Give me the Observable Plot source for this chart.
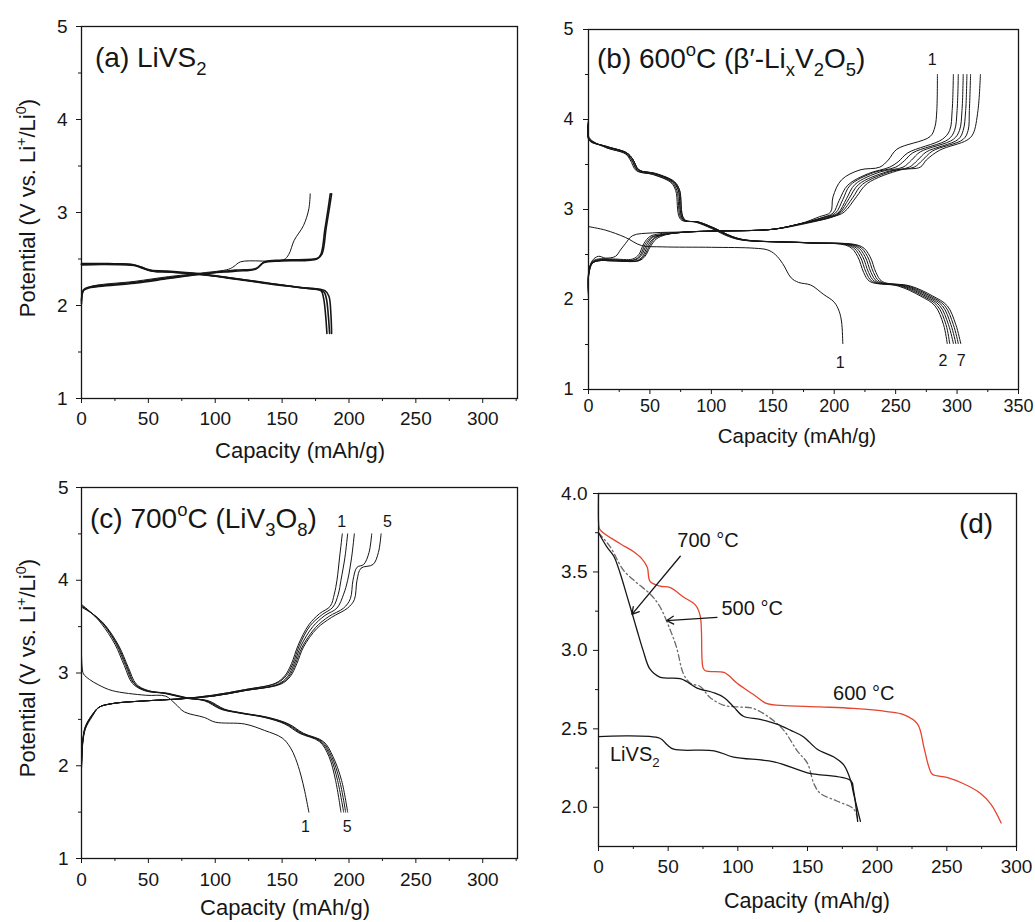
<!DOCTYPE html>
<html>
<head>
<meta charset="utf-8">
<script src="https://cdn.jsdelivr.net/npm/d3@7"></script>
<script src="https://cdn.jsdelivr.net/npm/@observablehq/plot@0.6"></script>
<style>
  html, body { margin: 0; padding: 0; background: #fff; }
  #fig { position: relative; width: 1035px; height: 922px; overflow: hidden; }
  #fig svg { position: absolute; }
</style>
</head>
<body>
<div id="fig"></div>
<script>
// ---------- (a) LiVS2: capacity (mAh/g), potential (V) ----------
const aDis1 = [[0,2.45],[20,2.45],[37,2.44],[44,2.41],[50,2.38],[64,2.37],[89,2.34],[114,2.29],[139,2.24],[164,2.19],[179,2.16],[181,2.08],[182.5,1.90],[183.5,1.70]];
const aDis2 = [[0,2.44],[38,2.44],[45,2.41],[52,2.37],[65,2.36],[90,2.33],[115,2.29],[140,2.24],[165,2.19],[181,2.15],[183,2.08],[184.5,1.90],[185.5,1.70]];
const aDis3 = [[0,2.44],[40,2.43],[47,2.40],[54,2.37],[66,2.36],[92,2.33],[117,2.28],[142,2.23],[166,2.19],[182,2.16],[185,2.10],[186.5,1.90],[187,1.70]];
const aCh1 = [[0,2.00],[1,2.15],[6,2.20],[40,2.26],[65,2.31],[90,2.35],[110,2.39],[114,2.42],[119,2.47],[151,2.49],[155,2.55],[159,2.70],[166,2.86],[170,3.04],[171,3.20]];
const aCh2 = [[0,2.02],[1.5,2.16],[6,2.19],[40,2.24],[65,2.29],[90,2.34],[115,2.37],[130,2.39],[136,2.46],[150,2.48],[176,2.50],[179,2.55],[182,2.82],[184.5,3.05],[186,3.20]];
const aCh3 = [[0,2.05],[1.5,2.17],[6,2.20],[40,2.25],[65,2.30],[90,2.34],[115,2.38],[131,2.40],[137,2.47],[150,2.49],[177,2.51],[180,2.56],[183,2.84],[185.5,3.06],[187,3.20]];

// ---------- (b) 600 °C, beta'-LixV2O5 ----------
const bDis1 = [[0,2.81],[14,2.77],[30,2.69],[43,2.60],[60,2.585],[100,2.58],[135,2.57],[146,2.55],[152,2.50],[158,2.40],[165,2.24],[171,2.19],[181,2.16],[191,2.06],[200,1.97],[204,1.87],[206,1.75],[207,1.51]];
const bDis2 = [[0,4.00],[0.5,3.80],[14,3.69],[30,3.62],[34,3.55],[39,3.43],[52,3.39],[67,3.30],[71,3.21],[75,2.89],[87,2.86],[100,2.79],[114,2.70],[125,2.66],[176,2.63],[212,2.59],[219,2.48],[224,2.30],[229,2.20],[252,2.15],[270,2.04],[282,1.93],[289,1.72],[292,1.51]];
const bDis3 = [[0,3.98],[0.5,3.79],[14,3.69],[30,3.62],[35,3.55],[40,3.43],[53,3.39],[68,3.30],[72,3.21],[76,2.89],[88,2.86],[101,2.79],[115,2.70],[126,2.66],[177,2.63],[214,2.59],[221,2.48],[226,2.30],[231,2.20],[254,2.15],[272,2.04],[284,1.93],[291,1.72],[294,1.51]];
const bDis4 = [[0,3.97],[0.5,3.78],[14,3.70],[30,3.63],[35,3.56],[40,3.44],[53,3.40],[68,3.31],[73,3.22],[77,2.89],[89,2.86],[102,2.79],[116,2.70],[127,2.66],[178,2.63],[216,2.59],[223,2.48],[228,2.30],[233,2.20],[256,2.15],[274,2.04],[286,1.93],[293,1.72],[297,1.51]];
const bDis5 = [[0,3.96],[0.5,3.78],[14,3.70],[31,3.63],[36,3.56],[41,3.44],[54,3.40],[69,3.31],[73,3.22],[77,2.89],[89,2.86],[102,2.79],[116,2.70],[128,2.66],[179,2.63],[218,2.59],[225,2.48],[230,2.30],[235,2.20],[258,2.15],[276,2.04],[288,1.93],[295,1.72],[299,1.51]];
const bDis6 = [[0,3.95],[0.5,3.77],[15,3.70],[31,3.63],[36,3.56],[41,3.44],[54,3.40],[69,3.31],[74,3.22],[78,2.89],[90,2.86],[103,2.79],[117,2.70],[128,2.66],[180,2.63],[220,2.59],[227,2.48],[232,2.30],[237,2.20],[260,2.15],[278,2.04],[290,1.93],[297,1.72],[301,1.51]];
const bDis7 = [[0,3.95],[0.5,3.77],[15,3.70],[31,3.63],[36,3.56],[41,3.44],[55,3.40],[70,3.31],[74,3.22],[78,2.89],[90,2.86],[103,2.79],[117,2.70],[129,2.66],[181,2.63],[222,2.59],[229,2.48],[234,2.30],[239,2.20],[262,2.15],[280,2.04],[292,1.93],[299,1.72],[303,1.51]];
const bCh1 = [[0,2.00],[0.2,2.30],[3,2.43],[8,2.48],[14,2.46],[22,2.48],[26,2.55],[30,2.62],[36,2.71],[52,2.74],[79,2.75],[100,2.76],[150,2.78],[172,2.84],[188,2.92],[197,2.97],[199,3.14],[206,3.33],[221,3.44],[237,3.47],[244,3.55],[251,3.67],[278,3.81],[282,3.92],[283.5,4.10],[284,4.50]];
const bCh2 = [[0,2.05],[0.2,2.32],[3,2.42],[8,2.45],[20,2.45],[36,2.45],[41,2.50],[45,2.62],[50,2.70],[58,2.73],[79,2.75],[100,2.76],[150,2.78],[172,2.84],[190,2.91],[199,2.96],[204,3.10],[211,3.27],[228,3.40],[245,3.47],[252,3.53],[260,3.63],[288,3.78],[294,3.88],[296,4.10],[297,4.50]];
const bCh3 = [[0,2.05],[0.2,2.30],[3,2.41],[8,2.44],[20,2.44],[37,2.44],[42,2.49],[46,2.61],[51,2.69],[59,2.72],[79,2.75],[100,2.76],[150,2.78],[172,2.84],[191,2.91],[201,2.96],[207,3.11],[213,3.27],[232,3.41],[250,3.47],[257,3.54],[264,3.63],[293,3.78],[298,3.88],[300,4.10],[301,4.50]];
const bCh4 = [[0,2.08],[0.2,2.30],[3,2.41],[8,2.44],[20,2.44],[38,2.44],[43,2.49],[47,2.60],[52,2.69],[60,2.72],[80,2.75],[100,2.76],[150,2.78],[172,2.84],[193,2.91],[203,2.96],[210,3.12],[217,3.28],[238,3.42],[256,3.47],[263,3.55],[270,3.64],[297,3.78],[302,3.88],[304,4.10],[305,4.50]];
const bCh5 = [[0,2.08],[0.2,2.28],[3,2.40],[8,2.43],[20,2.43],[39,2.43],[44,2.48],[48,2.59],[53,2.68],[61,2.72],[80,2.75],[100,2.76],[150,2.78],[172,2.84],[195,2.91],[204,2.96],[212,3.12],[220,3.28],[243,3.42],[261,3.47],[268,3.55],[275,3.64],[301,3.78],[305,3.88],[307,4.10],[308,4.50]];
const bCh6 = [[0,2.10],[0.2,2.28],[3,2.40],[8,2.43],[20,2.43],[40,2.43],[45,2.48],[49,2.58],[54,2.68],[62,2.72],[80,2.75],[100,2.76],[150,2.78],[172,2.84],[197,2.91],[206,2.97],[215,3.13],[223,3.28],[248,3.43],[265,3.47],[272,3.55],[280,3.65],[305,3.78],[309,3.88],[310,4.10],[311,4.50]];
const bCh7 = [[0,2.10],[0.2,2.27],[3,2.40],[8,2.43],[20,2.43],[41,2.43],[46,2.48],[50,2.58],[55,2.67],[63,2.72],[81,2.75],[100,2.76],[150,2.78],[172,2.83],[199,2.92],[208,2.97],[218,3.14],[227,3.29],[254,3.44],[270,3.47],[275,3.55],[286,3.66],[308,3.77],[313,3.84],[317,4.10],[319,4.50]];
const bCycleLabels = [["1",279.7,4.66],["1",204.8,1.30],["2",288.5,1.32],["7",303.4,1.32]];

// ---------- (c) 700 °C, LiV3O8 ----------
const cDis1 = [[0,3.20],[0.5,3.06],[1.5,2.99],[6,2.93],[13,2.87],[23,2.81],[48,2.76],[63,2.75],[70,2.67],[77,2.58],[92,2.52],[100,2.47],[122,2.45],[137,2.38],[150,2.30],[156,2.20],[160,2.08],[164,1.90],[167,1.72],[170,1.50]];
const cDis2 = [[0,3.74],[8,3.64],[15,3.53],[25,3.31],[32,3.08],[38,2.89],[47,2.81],[62,2.78],[77,2.73],[92,2.70],[104,2.61],[117,2.57],[137,2.52],[152,2.45],[163,2.35],[178,2.26],[185,2.10],[190,1.84],[194,1.50]];
const cDis3 = [[0,3.73],[8,3.64],[16,3.53],[26,3.31],[33,3.08],[39,2.89],[48,2.81],[63,2.78],[78,2.73],[93,2.70],[105,2.61],[118,2.57],[138,2.52],[153,2.45],[164,2.35],[179,2.26],[186,2.10],[191.5,1.84],[196,1.50]];
const cDis4 = [[0,3.72],[9,3.63],[17,3.52],[27,3.30],[34,3.07],[40,2.88],[49,2.81],[64,2.78],[79,2.73],[94,2.70],[106,2.61],[119,2.57],[139,2.52],[154,2.45],[165,2.35],[180,2.26],[187,2.10],[193,1.84],[197.5,1.50]];
const cDis5 = [[0,3.71],[10,3.62],[18,3.51],[28,3.29],[35,3.06],[41,2.88],[50,2.81],[65,2.78],[80,2.73],[95,2.70],[107,2.61],[120,2.57],[140,2.52],[155,2.45],[166,2.35],[181,2.26],[188,2.10],[194.5,1.84],[199,1.50]];
const cCh1 = [[0,1.95],[1,2.25],[3,2.40],[8,2.53],[13,2.63],[23,2.67],[48,2.70],[73,2.72],[98,2.76],[122,2.82],[145,2.89],[152,2.97],[157,3.10],[162,3.30],[170,3.52],[178,3.64],[186,3.72],[189,3.85],[191,4.00],[193,4.25],[195,4.50]];
const cCh2 = [[0,1.97],[1,2.26],[3,2.41],[8,2.54],[13,2.63],[23,2.67],[48,2.70],[73,2.72],[98,2.76],[122,2.82],[146,2.89],[153,2.97],[158,3.10],[163,3.30],[171,3.51],[180,3.63],[188,3.71],[192,3.85],[194,4.00],[197,4.25],[199,4.50]];
const cCh3 = [[0,1.98],[1,2.27],[3,2.42],[8,2.54],[13,2.63],[23,2.67],[48,2.70],[73,2.72],[98,2.75],[122,2.81],[147,2.88],[154,2.96],[159,3.10],[164,3.29],[173,3.50],[182,3.62],[191,3.70],[196,3.85],[199,4.00],[202,4.25],[204,4.50]];
const cCh4 = [[0,2.00],[1,2.28],[3,2.42],[8,2.55],[13,2.63],[23,2.67],[48,2.70],[73,2.72],[98,2.75],[122,2.81],[148,2.88],[155,2.96],[160,3.10],[165,3.28],[175,3.49],[185,3.61],[196,3.70],[201,3.80],[203,4.00],[206,4.14],[211,4.17],[215,4.30],[217,4.50]];
const cCh5 = [[0,2.02],[1,2.29],[3,2.43],[8,2.55],[13,2.63],[23,2.67],[48,2.70],[73,2.72],[98,2.75],[122,2.81],[149,2.88],[156,2.96],[161,3.10],[166,3.28],[176,3.48],[187,3.60],[199,3.70],[204,3.79],[206,4.00],[209,4.13],[218,4.17],[222,4.30],[224,4.50]];
const cCycleLabels = [["1",194.5,4.63],["5",228.8,4.63],["1",167.5,1.34],["5",198.7,1.34]];

// ---------- (d) first discharge, all samples ----------
const d600 = [[0,4.00],[0.1,3.81],[1,3.77],[15.6,3.68],[25,3.63],[31,3.585],[35,3.53],[37,3.44],[44,3.41],[51.5,3.40],[61,3.34],[69.5,3.29],[73,3.22],[75,2.89],[76.7,2.87],[90,2.86],[93.5,2.84],[99.5,2.79],[111,2.72],[121,2.66],[130.6,2.65],[159,2.64],[183,2.63],[207,2.61],[219,2.59],[229,2.53],[233.6,2.38],[237,2.26],[239.6,2.21],[250,2.19],[262,2.15],[274,2.09],[281.6,2.02],[289,1.90]];
const d700 = [[0,3.75],[6,3.66],[11,3.60],[15.6,3.49],[20,3.36],[24,3.24],[27.6,3.13],[32,3.00],[37,2.88],[44,2.83],[58.7,2.82],[63.5,2.80],[70.7,2.76],[82.7,2.73],[90,2.70],[97,2.64],[104,2.58],[116,2.56],[128,2.53],[138,2.49],[147,2.45],[157,2.37],[169,2.32],[176,2.27],[181,2.17],[183,2.09],[188,1.91]];
const d500 = [[0,3.75],[8.4,3.66],[18,3.51],[27.6,3.43],[37,3.36],[44,3.28],[51.5,3.13],[56,3.02],[61,2.85],[66,2.79],[73,2.77],[80,2.70],[90,2.65],[99.5,2.64],[111,2.63],[123,2.57],[133,2.49],[142.6,2.36],[150,2.28],[154.6,2.15],[159,2.09],[171,2.04],[183,1.99],[186,1.93]];
const dLiVS2 = [[0,2.45],[44,2.44],[49,2.40],[54,2.37],[83,2.36],[97,2.32],[126,2.29],[150,2.22],[181,2.17],[183,2.11],[186,1.91]];
const dLabels = [["700 °C",78.6,3.70],["500 °C",110.3,3.265],["600 °C",190.4,2.724]];
const dArrows = [[58.7,3.60,24,3.23],[85,3.21,49,3.19]];

// ---------- axis ticks ----------
const capMajor = [0,50,100,150,200,250,300];
const capMinor = [25,75,125,175,225,275,325];
const capMajorB = [0,50,100,150,200,250,300,350];
const vMajor = [1,2,3,4,5];
const vMinor = [1.5,2.5,3.5,4.5];
const vMajorD = [2.0,2.5,3.0,3.5,4.0];
const vMinorD = [2.25,2.75,3.25,3.75];

const FONT = 'Arial, "Liberation Sans", Helvetica, sans-serif';
const INK = "#161616";
const fig = document.getElementById("fig");

const rows = (curves) => curves.flatMap(([id, pts]) => pts.map(([cap, v]) => ({id, cap, v})));

// text with sub/superscript runs, drawn straight into an svg
function rich(svg, x, y, parts, {size, anchor = "start", rotate = false}) {
  const t = d3.select(svg).append("text")
    .attr("text-anchor", anchor)
    .attr("font-family", FONT)
    .attr("font-size", size)
    .attr("fill", INK);
  if (rotate) t.attr("transform", `translate(${x},${y}) rotate(-90)`);
  else t.attr("x", x).attr("y", y);
  let shift = 0;
  for (const p of parts) {
    const [s, kind] = typeof p === "string" ? [p, ""] : p;
    const target = kind === "sub" ? size * 0.3 : kind === "sup" ? -size * 0.42 : 0;
    t.append("tspan")
      .attr("dy", target - shift)
      .attr("font-size", kind ? size * 0.66 : size)
      .text(s);
    shift = target;
  }
  return t;
}

function panel(o) {
  const [mt, mr, mb, ml] = o.margin;
  const plot = Plot.plot({
    width: o.width, height: o.height,
    marginTop: mt, marginRight: mr, marginBottom: mb, marginLeft: ml,
    x: {domain: o.xDomain},
    y: {domain: o.yDomain},
    style: {fontFamily: FONT, fontSize: o.tickFont + "px", color: INK, background: "transparent", overflow: "visible"},
    marks: [
      ...o.marks,
      Plot.axisX({ticks: o.xMajor, tickSize: 5, tickPadding: o.xPad, fontSize: o.tickFont, label: null, tickFormat: d3.format("d")}),
      Plot.axisX({ticks: capMinor.filter(d => d <= o.xDomain[1]), tickSize: 3, label: null, tickFormat: () => ""}),
      Plot.axisY({ticks: o.yMajor, tickSize: 5, tickPadding: o.yPad, fontSize: o.tickFont, label: null, tickFormat: o.yFormat}),
      Plot.axisY({ticks: o.yMinor, tickSize: 3, label: null, tickFormat: () => ""}),
      Plot.frame({stroke: INK, strokeWidth: 1.3})
    ]
  });
  plot.style.left = o.left + "px";
  plot.style.top = o.top + "px";
  fig.append(plot);
  return plot;
}

const lineOpts = (w) => ({x: "cap", y: "v", z: "id", stroke: INK, strokeWidth: w, curve: "catmull-rom"});
const yTitle = ["Potential (V vs. Li", ["+", "sup"], "/Li", ["0", "sup"], ")"];

// (a)
const pa = panel({
  left: 0, top: 0, width: 530, height: 460, margin: [26, 13, 62, 81],
  xDomain: [0, 326], yDomain: [1, 5], xMajor: capMajor, yMajor: vMajor, yMinor: vMinor,
  yFormat: d3.format("d"), tickFont: 19, xPad: 8, yPad: 9,
  marks: [
    Plot.line(rows([["d1", aDis1], ["d2", aDis2], ["d3", aDis3]]), lineOpts(1.6)),
    Plot.line(rows([["c1", aCh1]]), lineOpts(1.0)),
    Plot.line(rows([["c2", aCh2], ["c3", aCh3]]), lineOpts(1.6))
  ]
});
rich(pa, 95, 67, ["(a) LiVS", ["2", "sub"]], {size: 28});
rich(pa, 35, 208, yTitle, {size: 22, anchor: "middle", rotate: true});
rich(pa, 300, 458, ["Capacity (mAh/g)"], {size: 22, anchor: "middle"});

// (b)
const pb = panel({
  left: 520, top: 0, width: 515, height: 460, margin: [29, 17, 71, 68],
  xDomain: [0, 350], yDomain: [1, 5], xMajor: capMajorB, yMajor: vMajor, yMinor: vMinor,
  yFormat: d3.format("d"), tickFont: 18, xPad: 5, yPad: 10,
  marks: [
    Plot.line(rows([["d1", bDis1], ["d2", bDis2], ["d3", bDis3], ["d4", bDis4], ["d5", bDis5], ["d6", bDis6], ["d7", bDis7],
                    ["c1", bCh1], ["c2", bCh2], ["c3", bCh3], ["c4", bCh4], ["c5", bCh5], ["c6", bCh6], ["c7", bCh7]]), lineOpts(1.0)),
    Plot.text(bCycleLabels, {x: d => d[1], y: d => d[2], text: d => d[0], fontSize: 16, fill: INK})
  ]
});
rich(pb, 77, 68, ["(b) 600", ["o", "sup"], "C (β′-Li", ["x", "sub"], "V", ["2", "sub"], "O", ["5", "sub"], ")"], {size: 28});
rich(pb, 277, 443, ["Capacity (mAh/g)"], {size: 20.5, anchor: "middle"});

// (c)
const pc = panel({
  left: 0, top: 460, width: 530, height: 462, margin: [27, 13, 64, 81],
  xDomain: [0, 326], yDomain: [1, 5], xMajor: capMajor, yMajor: vMajor, yMinor: vMinor,
  yFormat: d3.format("d"), tickFont: 19, xPad: 9, yPad: 8,
  marks: [
    Plot.line(rows([["d1", cDis1], ["d2", cDis2], ["d3", cDis3], ["d4", cDis4], ["d5", cDis5],
                    ["c1", cCh1], ["c2", cCh2], ["c3", cCh3], ["c4", cCh4], ["c5", cCh5]]), lineOpts(1.0)),
    Plot.text(cCycleLabels, {x: d => d[1], y: d => d[2], text: d => d[0], fontSize: 16, fill: INK})
  ]
});
rich(pc, 90, 68, ["(c) 700", ["o", "sup"], "C (LiV", ["3", "sub"], "O", ["8", "sub"], ")"], {size: 28});
rich(pc, 35, 208, yTitle, {size: 22, anchor: "middle", rotate: true});
rich(pc, 285, 455, ["Capacity (mAh/g)"], {size: 22, anchor: "middle"});

// (d)
const pd = panel({
  left: 520, top: 460, width: 515, height: 462, margin: [33, 19, 76, 78],
  xDomain: [0, 300], yDomain: [1.75, 4.0], xMajor: capMajor, yMajor: vMajorD, yMinor: vMinorD,
  yFormat: d3.format(".1f"), tickFont: 19, xPad: 8, yPad: 6,
  marks: [
    Plot.line(rows([["500", d500]]), {...lineOpts(1.3), stroke: "#6b6b6b", strokeDasharray: "6 3 1.5 3"}),
    Plot.line(rows([["700", d700], ["livs2", dLiVS2]]), lineOpts(1.3)),
    Plot.line(rows([["600", d600]]), {...lineOpts(1.3), stroke: "#e8432c"}),
    Plot.arrow(dArrows, {x1: d => d[0], y1: d => d[1], x2: d => d[2], y2: d => d[3], stroke: INK, strokeWidth: 1.3, headLength: 9}),
    Plot.text(dLabels, {x: d => d[1], y: d => d[2], text: d => d[0], fontSize: 20, fill: INK})
  ]
});
rich(pd, pd.scale("x").apply(8.6), pd.scale("y").apply(2.29), ["LiVS", ["2", "sub"]], {size: 20});
rich(pd, 456, 73, ["(d)"], {size: 28, anchor: "middle"});
rich(pd, 287, 448, ["Capacity (mAh/g)"], {size: 21.5, anchor: "middle"});
</script>
</body>
</html>
